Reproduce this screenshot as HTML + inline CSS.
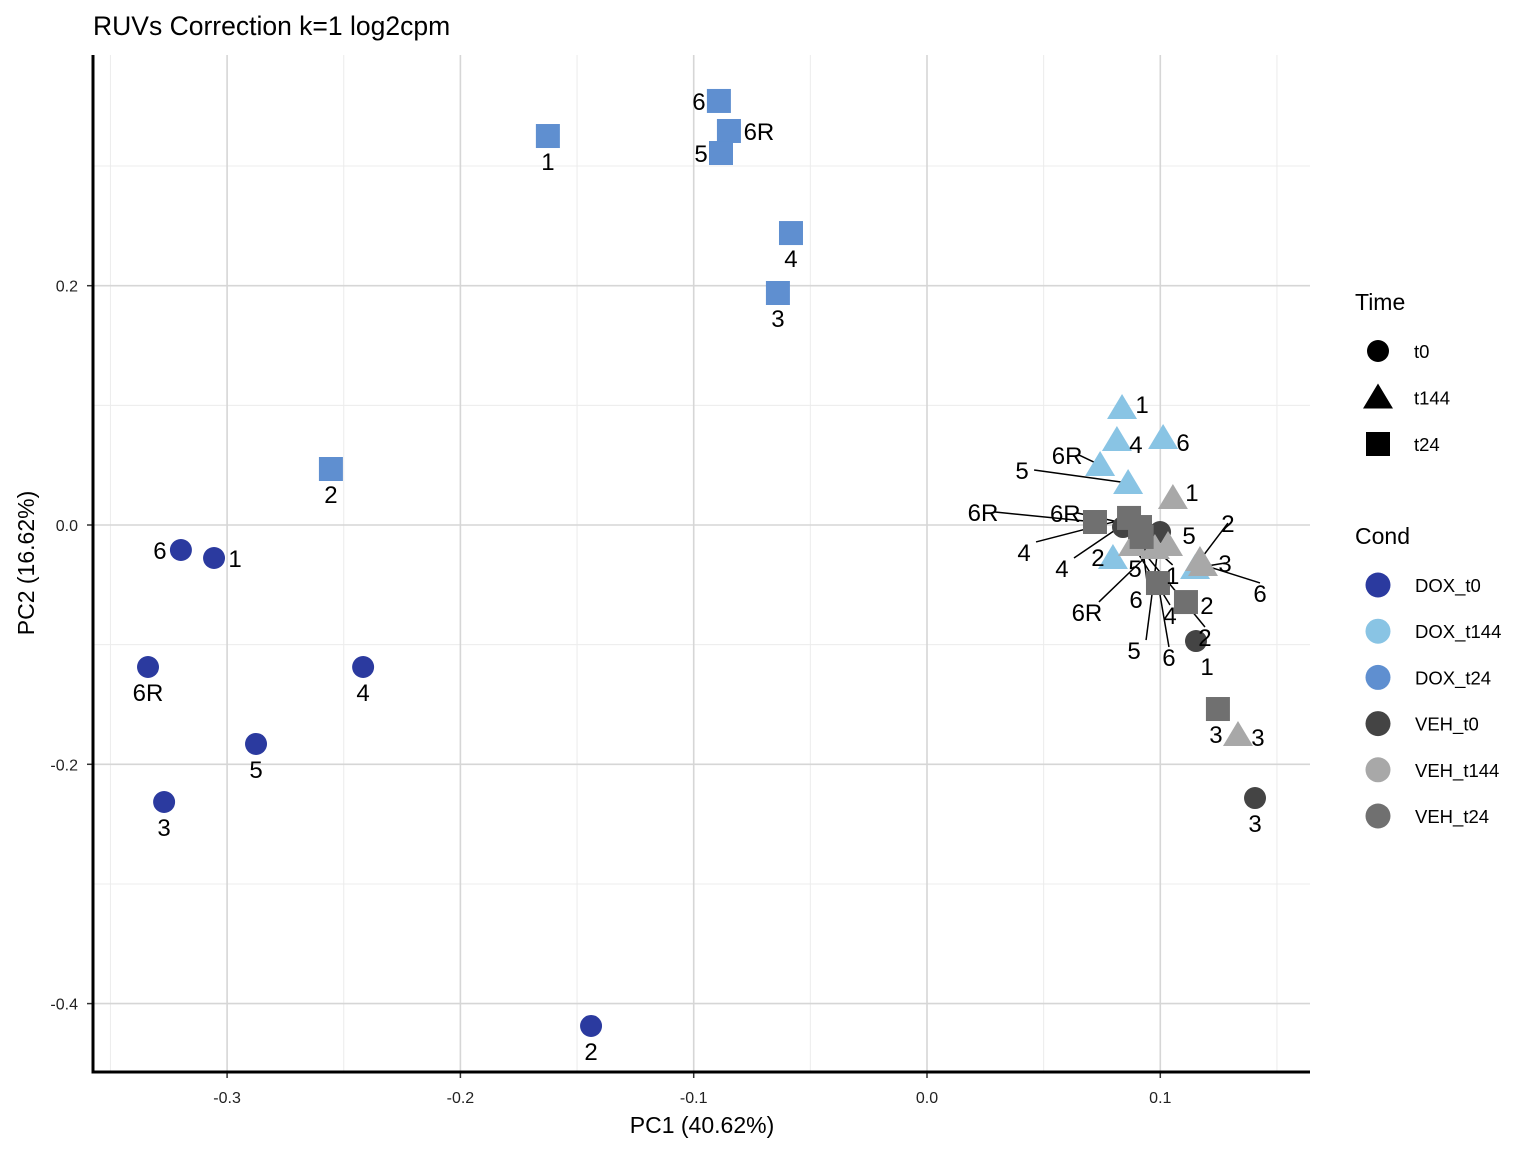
<!DOCTYPE html>
<html><head><meta charset="utf-8"><style>
html,body{margin:0;padding:0;background:#fff;}
svg{display:block;font-family:"Liberation Sans",Arial,sans-serif;}
</style></head><body>
<svg id="chart" width="1536" height="1152" xmlns="http://www.w3.org/2000/svg">
<text x="93" y="35" font-size="26.5" fill="#000">RUVs Correction k=1 log2cpm</text>
<g id="grid"></g>
<g id="axes"></g>
<g id="lines"></g>
<g id="marks"></g>
<g id="labels"></g>
<text x="702" y="1133" font-size="23" text-anchor="middle">PC1 (40.62%)</text>
<text transform="translate(34,563) rotate(-90)" font-size="23" text-anchor="middle">PC2 (16.62%)</text>
<g id="legend"></g>
</svg>
<script>
const NS="http://www.w3.org/2000/svg";
const xTicks=[-0.3,-0.2,-0.1,0.0,0.1];
const xTickLabels=["-0.3","-0.2","-0.1","0.0","0.1"];
const xMinor=[-0.35,-0.25,-0.15,-0.05,0.05,0.15];
const yTicks=[0.2,0.0,-0.2,-0.4];
const yTickLabels=["0.2","0.0","-0.2","-0.4"];
const yMinor=[0.3,0.1,-0.1,-0.3];
const condNames=["DOX_t0","DOX_t144","DOX_t24","VEH_t0","VEH_t144","VEH_t24"];
const condColors=["#2B3A9F","#89C4E4","#5F8FD0","#444444","#A8A8A8","#707070"];
const timeNames=["t0","t144","t24"];
const sampleLabels=["6","1","6R","4","5","3","2",
 "6","6R","5","1","4","3","2",
 "1","4","6","6R","5","2","3",
 "5","1","3","2","4","6","6R",
 "1","5","2","3","4","6R","6",
 "6R","4","5","6","2","3","1"];
const sampleCond=[0,0,0,0,0,0,0, 2,2,2,2,2,2,2, 1,1,1,1,1,1,1, 3,3,3,3,3,3,3, 4,4,4,4,4,4,4, 5,5,5,5,5,5,5];
const sampleTime=[0,0,0,0,0,0,0, 2,2,2,2,2,2,2, 1,1,1,1,1,1,1, 0,0,0,0,0,0,0, 1,1,1,1,1,1,1, 2,2,2,2,2,2,2];
const pc1=[-0.3198,-0.3056,-0.3339,-0.2417,-0.2876,-0.3270,-0.1440,
 -0.0892,-0.0849,-0.0883,-0.1625,-0.0583,-0.0639,-0.2555,
 0.0836,0.0814,0.1012,0.0742,0.0862,0.0797,0.1149,
 0.0999,0.1153,0.1406,0.0840,0.0870,0.0913,0.0880,
 0.1054,0.1033,0.1170,0.1333,0.0883,0.0977,0.1183,
 0.0720,0.0866,0.0913,0.0990,0.1110,0.1247,0.0920];
const pc2=[-0.0209,-0.0276,-0.1187,-0.1187,-0.1830,-0.2315,-0.4187,
 0.3544,0.3293,0.3109,0.3251,0.2440,0.1939,0.0468,
 0.0978,0.0710,0.0727,0.0501,0.0351,-0.0276,-0.0359,
 -0.0059,-0.0970,-0.2282,-0.0017,0.0042,-0.0017,0.0000,
 0.0226,-0.0167,-0.0293,-0.1755,-0.0167,-0.0192,-0.0334,
 0.0025,0.0059,-0.0017,-0.0485,-0.0644,-0.1538,-0.0100];
const labOff=[[-21,0],[21,0],[0,25],[0,25],[0,25],[0,25],[0,25],
 [-20,0],[30,0],[-20,0],[0,25],[0,25],[0,25],[0,25],
 [20,-4],[19,4],[20,4],[-33,-10],[-106,-13],[-15,-1],[30,-5],
 [-26,118],[11,25],[0,25],[82,110],[-68,48],[-4,72],[-67,-12],
 [19,-6],[21,-10],[28,-37],[20,2],[37,70],[-68,64],[57,28],
 [-112,-10],[-105,34],[-5,41],[11,74],[21,3],[-2,25],[31,38]];
const X0=93,X1=1310,Y0=55,Y1=1072;
function sx(v){return 927+v*2333;}
function sy(v){return 525-v*1196.5;}
function mk(tag,attrs,parent){const e=document.createElementNS(NS,tag);for(const k in attrs)e.setAttribute(k,attrs[k]);parent.appendChild(e);return e;}
const grid=document.getElementById('grid');
xMinor.forEach(v=>{const l=mk('line',{x1:sx(v),x2:sx(v),y1:Y0,y2:Y1,stroke:'#ececec','stroke-width':1},grid);

});
yMinor.forEach(v=>{const l=mk('line',{x1:X0,x2:X1,y1:sy(v),y2:sy(v),stroke:'#ececec','stroke-width':1},grid);

});
xTicks.forEach((v,i)=>{const l=mk('line',{x1:sx(v),x2:sx(v),y1:Y0,y2:Y1,stroke:'#d6d6d6','stroke-width':1.6},grid);


const t=mk('line',{x1:sx(v),x2:sx(v),y1:Y1,y2:Y1+6,stroke:'#333','stroke-width':1.5},grid);


const tx=mk('text',{x:sx(v),y:1103,'font-size':16,'text-anchor':'middle',fill:'#222'},grid);tx.textContent=xTickLabels[i];

});
yTicks.forEach((v,i)=>{const l=mk('line',{x1:X0,x2:X1,y1:sy(v),y2:sy(v),stroke:'#d6d6d6','stroke-width':1.6},grid);


const t=mk('line',{x1:X0-6,x2:X0,y1:sy(v),y2:sy(v),stroke:'#333','stroke-width':1.5},grid);


const tx=mk('text',{x:78,y:sy(v)+6,'font-size':16,'text-anchor':'end',fill:'#222'},grid);tx.textContent=yTickLabels[i];

});
const axes=document.getElementById('axes');
const ax1=mk('line',{x1:X0,x2:X0,y1:Y0,y2:Y1+1.5,stroke:'#000','stroke-width':3},axes);


const ax2=mk('line',{x1:X0-1.5,x2:X1,y1:Y1,y2:Y1,stroke:'#000','stroke-width':3},axes);


function shape(t,cx,cy,color,parent,s){
 let e;
 if(t===0)e=mk('circle',{cx:cx,cy:cy,r:11*s,fill:color},parent);
 else if(t===1)e=mk('polygon',{points:`${cx},${cy-14*s} ${cx-15*s},${cy+11*s} ${cx+15*s},${cy+11*s}`,fill:color},parent);
 else e=mk('rect',{x:cx-12*s,y:cy-12*s,width:24*s,height:24*s,fill:color},parent);
 return e;}
const marks=document.getElementById('marks'),labs=document.getElementById('labels'),lines=document.getElementById('lines');
pc1.forEach((v,i)=>{const cx=sx(v),cy=sy(pc2[i]);
 const e=shape(sampleTime[i],cx,cy,condColors[sampleCond[i]],marks,1);
 
 
 const o=labOff[i];const lx=cx+o[0],ly=cy+o[1];
 if(Math.hypot(o[0],o[1])>30){const ln=mk('line',{x1:lx+(o[0]<0?12:0),y1:ly-(o[1]>0?10:0),x2:cx,y2:cy,stroke:'#000','stroke-width':1.5},lines);
  
  }
 const t=mk('text',{x:lx,y:ly+9,'font-size':24,'text-anchor':'middle',fill:'#000'},labs);t.textContent=sampleLabels[i];
 
 
});
const lg=document.getElementById('legend');
const tt=mk('text',{x:1355,y:310,'font-size':23},lg);tt.textContent='Time';


timeNames.forEach((n,i)=>{const y=351+i*46.5;const e=shape(i,1378,y,'#000',lg,1);
 
 
 const t=mk('text',{x:1414,y:y+7,'font-size':18.5},lg);t.textContent=n;
 
 });
const ct=mk('text',{x:1355,y:544,'font-size':23},lg);ct.textContent='Cond';


condNames.forEach((n,i)=>{const y=585+i*46.2;const e=mk('circle',{cx:1378,cy:y,r:12.5,fill:condColors[i]},lg);
 
 
 const t=mk('text',{x:1415,y:y+7,'font-size':18.5},lg);t.textContent=n;
 
 });
</script>
</body></html>
